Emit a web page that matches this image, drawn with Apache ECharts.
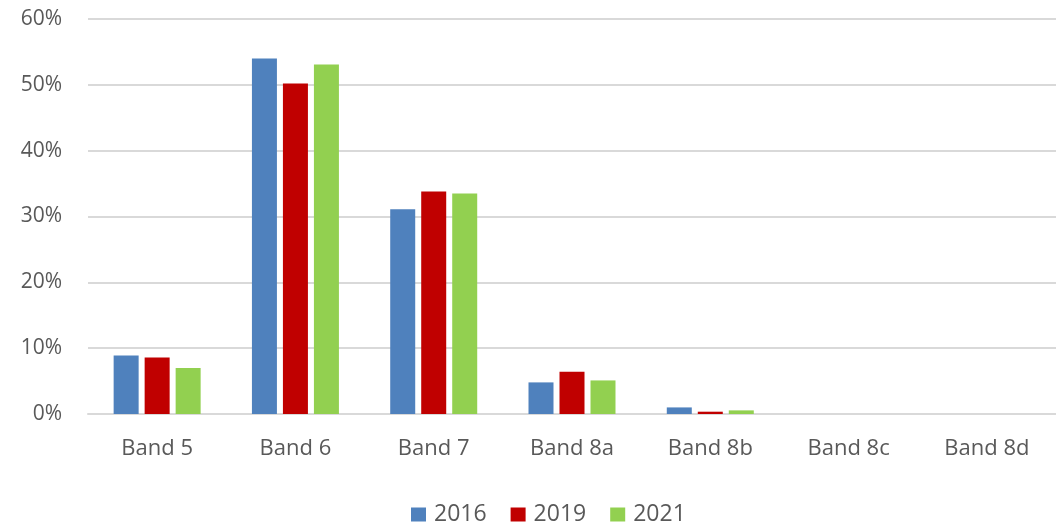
<!DOCTYPE html>
<html><head><meta charset="utf-8">
<script src="https://cdn.jsdelivr.net/npm/echarts@6/dist/echarts.min.js"></script>
<style>html,body{margin:0;padding:0;background:#fff}#c{width:1056px;height:522px}</style>
</head><body><div id="c"></div>
<script>
const categories = ['Band 5','Band 6','Band 7','Band 8a','Band 8b','Band 8c','Band 8d'];
const s2016 = [8.9, 54.0, 31.1, 4.8, 1.0, 0, 0];
const s2019 = [8.6, 50.2, 33.8, 6.4, 0.35, 0, 0];
const s2021 = [7.0, 53.1, 33.5, 5.1, 0.55, 0, 0];
const yTicks = [0, 10, 20, 30, 40, 50, 60];
const font = '"Open Sans", "Liberation Sans", sans-serif';
const chart = echarts.init(document.getElementById('c'));
function bar(name, data, color){
  return {name, type:'bar', data, barWidth:25, barGap:'24%',
    itemStyle:{color}};
}
chart.setOption({
  animation:false,
  grid:{left:88, right:0, top:19, bottom:108},
  legend:{top:498, left:406, itemWidth:15, itemHeight:14, itemGap:24,
    icon:'rect', textStyle:{color:'#595959', fontSize:23, fontFamily:font, padding:[0,0,0,3]}},
  xAxis:{type:'category', data:categories,
    axisLine:{lineStyle:{color:'#d9d9d9', width:2}}, axisTick:{show:false},
    axisLabel:{color:'#595959', fontSize:22, fontFamily:font, margin:24}},
  yAxis:{type:'value', min:yTicks[0], max:yTicks[yTicks.length-1], interval:10,
    axisLine:{show:false}, axisTick:{show:false},
    splitLine:{lineStyle:{color:'#d9d9d9', width:2}},
    axisLabel:{color:'#595959', fontSize:21, fontFamily:font, margin:26, formatter:'{value}%'}},
  series:[bar('2016', s2016, '#4F81BD'), bar('2019', s2019, '#C00000'), bar('2021', s2021, '#92D050')]
});
</script></body></html>
